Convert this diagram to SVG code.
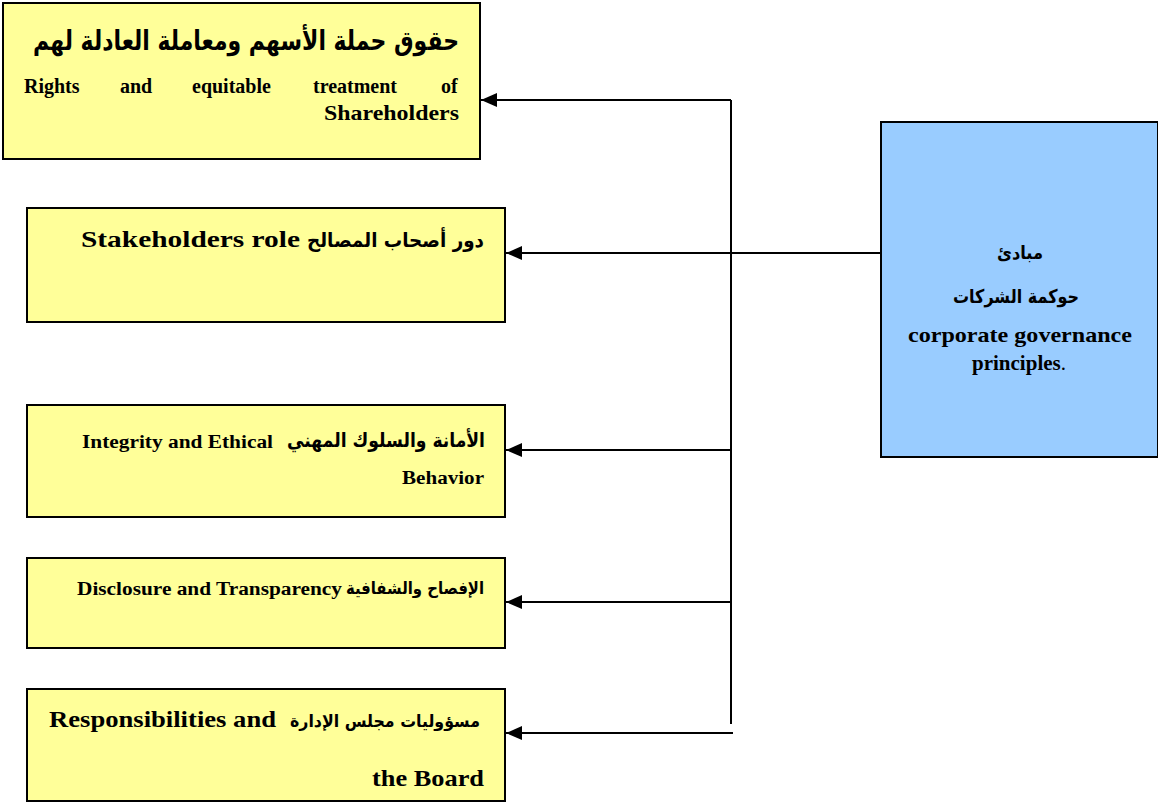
<svg xmlns="http://www.w3.org/2000/svg" width="1158" height="804" viewBox="0 0 1158 804">
<style>
.yb{fill:#FFFF99;stroke:#000;stroke-width:2}
.bb{fill:#99CCFF;stroke:#000;stroke-width:2}
.en{font-family:"Liberation Serif","Times New Roman",serif;font-weight:bold;fill:#000}
.ar{font-family:"DejaVu Sans","Noto Sans",sans-serif;font-weight:bold;fill:#000}
.ln{stroke:#000;stroke-width:2;fill:none}
</style>
<defs>
<marker id="ah" markerWidth="16" markerHeight="14" refX="16" refY="7" orient="auto" markerUnits="userSpaceOnUse">
<path d="M0,0 L16,7 L0,14 Z" fill="#000"/>
</marker>
</defs>
<rect width="1158" height="804" fill="#fff"/>
<g id="connectors">
<path class="ln" d="M731,724 V100"/>
<path class="ln" d="M731,100 H481" marker-end="url(#ah)"/>
<path class="ln" d="M881,253 H506" marker-end="url(#ah)"/>
<path class="ln" d="M731,450 H506" marker-end="url(#ah)"/>
<path class="ln" d="M731,602 H506" marker-end="url(#ah)"/>
<path class="ln" d="M733,733 H506" marker-end="url(#ah)"/>
</g>
<g id="node-shareholders">
<rect class="yb" x="3" y="3" width="477" height="156"/>
<text class="ar" x="459" y="50" font-size="27" text-anchor="end" textLength="426" lengthAdjust="spacingAndGlyphs">حقوق حملة الأسهم ومعاملة العادلة لهم</text>
<text class="en" y="93" font-size="20"><tspan x="24">Rights</tspan><tspan x="120">and</tspan><tspan x="192">equitable</tspan><tspan x="313">treatment</tspan><tspan x="441">of</tspan></text>
<text class="en" x="459" y="120" font-size="21" text-anchor="end" textLength="135" lengthAdjust="spacingAndGlyphs">Shareholders</text>
</g>
<g id="node-stakeholders">
<rect class="yb" x="27" y="208" width="478" height="114"/>
<text class="ar" x="484" y="247" font-size="20" text-anchor="end" textLength="177" lengthAdjust="spacingAndGlyphs">دور أصحاب المصالح</text>
<text class="en" x="81" y="247" font-size="24" textLength="219" lengthAdjust="spacingAndGlyphs">Stakeholders role</text>
</g>
<g id="node-integrity">
<rect class="yb" x="27" y="405" width="478" height="112"/>
<text class="ar" x="485" y="447" font-size="20" text-anchor="end" textLength="198" lengthAdjust="spacingAndGlyphs">الأمانة والسلوك المهني</text>
<text class="en" x="82" y="448" font-size="18" textLength="191" lengthAdjust="spacingAndGlyphs">Integrity and Ethical</text>
<text class="en" x="484" y="484" font-size="18" text-anchor="end" textLength="82" lengthAdjust="spacingAndGlyphs">Behavior</text>
</g>
<g id="node-disclosure">
<rect class="yb" x="27" y="558" width="478" height="90"/>
<text class="ar" x="484" y="594" font-size="17" text-anchor="end" textLength="138" lengthAdjust="spacingAndGlyphs">الإفصاح والشفافية</text>
<text class="en" x="77" y="595" font-size="18" textLength="265" lengthAdjust="spacingAndGlyphs">Disclosure and Transparency</text>
</g>
<g id="node-board">
<rect class="yb" x="27" y="689" width="478" height="112"/>
<text class="ar" x="480" y="727" font-size="17" text-anchor="end" textLength="190" lengthAdjust="spacingAndGlyphs">مسؤوليات مجلس الإدارة</text>
<text class="en" x="49" y="727" font-size="24" textLength="227" lengthAdjust="spacingAndGlyphs">Responsibilities and</text>
<text class="en" x="484" y="786" font-size="24" text-anchor="end" textLength="112" lengthAdjust="spacingAndGlyphs">the Board</text>
</g>
<g id="node-principles">
<rect class="bb" x="881" y="122" width="277" height="335"/>
<text class="ar" x="1020" y="259" font-size="18" text-anchor="middle" textLength="46" lengthAdjust="spacingAndGlyphs">مبادئ</text>
<text class="ar" x="1016" y="303" font-size="19" text-anchor="middle" textLength="126" lengthAdjust="spacingAndGlyphs">حوكمة الشركات</text>
<text class="en" x="1020" y="342" font-size="21" text-anchor="middle" textLength="224" lengthAdjust="spacingAndGlyphs">corporate governance</text>
<text class="en" x="1019" y="370" font-size="21" text-anchor="middle">principles<tspan font-weight="normal">.</tspan></text>
</g>
</svg>
